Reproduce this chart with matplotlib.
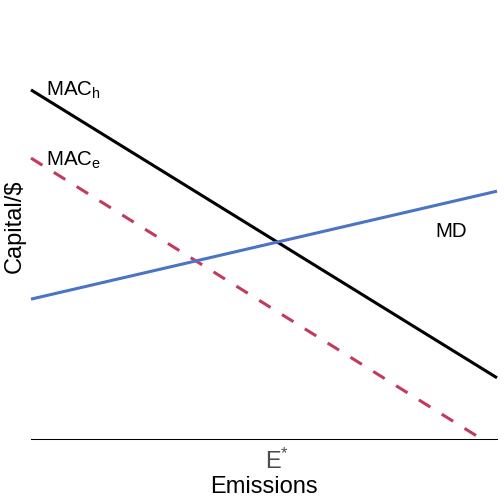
import matplotlib
matplotlib.use("Agg")
import matplotlib.pyplot as plt

plt.rcParams['font.family'] = ['Liberation Sans', 'DejaVu Sans']
plt.rcParams['mathtext.fontset'] = 'custom'
plt.rcParams['mathtext.rm'] = 'Liberation Sans'
plt.rcParams['mathtext.it'] = 'Liberation Sans:italic'
plt.rcParams['mathtext.default'] = 'regular'

# Data
emissions = [0, 10]
mac_h = [8.33, 1.45]
mac_e_x = [0, 9.58]
mac_e = [6.70, 0.05]
md = [3.33, 5.91]
labels = {"mac_h": "MAC$_{h}$", "mac_e": "MAC$_{e}$", "md": "MD"}
label_pos = {"mac_h": (0.32, 8.19), "mac_e": (0.32, 6.53), "md": (8.67, 4.81)}
xlab, ylab, tick_lab = "Emissions", "Capital/$", "E$^{*}$"

# intersection of MAC_h and MD -> E*
s_h = (mac_h[1] - mac_h[0]) / (emissions[1] - emissions[0])
s_d = (md[1] - md[0]) / (emissions[1] - emissions[0])
x_star = (md[0] - mac_h[0]) / (s_h - s_d)

W = H = 504
fig = plt.figure(figsize=(5.04, 5.04), dpi=100)
ax = fig.add_axes([31 / W, (H - 438.5) / H, 466 / W, (438.5 - 20) / H])
ax.set_xlim(0, 10)
ax.set_ylim(0, 10)

ax.plot(emissions, mac_h, color="black", lw=2.2, solid_capstyle="butt", clip_on=False)
ax.plot(mac_e_x, mac_e, color="#C23A5C", lw=2.2, linestyle=(0, (4.4, 4.4)),
        dash_capstyle="butt", clip_on=False)
ax.plot(emissions, md, color="#4B74C4", lw=2.2, solid_capstyle="butt", clip_on=False)

for k, (x, y) in label_pos.items():
    ax.text(x, y, labels[k], fontsize=14.8, ha="left", va="baseline", color="black")

for s in ["top", "right", "left"]:
    ax.spines[s].set_visible(False)
ax.spines["bottom"].set_linewidth(0.75)
ax.spines["bottom"].set_color("black")
ax.set_xticks([])
ax.set_yticks([])

ax.annotate(tick_lab, xy=(x_star, 0), xycoords="data", xytext=(0, -21.96),
            textcoords="offset points", ha="center", va="baseline",
            fontsize=17, color="#4D4D4D", annotation_clip=False)

fig.text(264 / W, 1 - 493.3 / H, xlab, ha="center", va="baseline", fontsize=17)
fig.text(15 / W, 1 - 226 / H, ylab, ha="center", va="center", rotation=90, fontsize=17)

fig.savefig("out.png", dpi=100, facecolor="white")
